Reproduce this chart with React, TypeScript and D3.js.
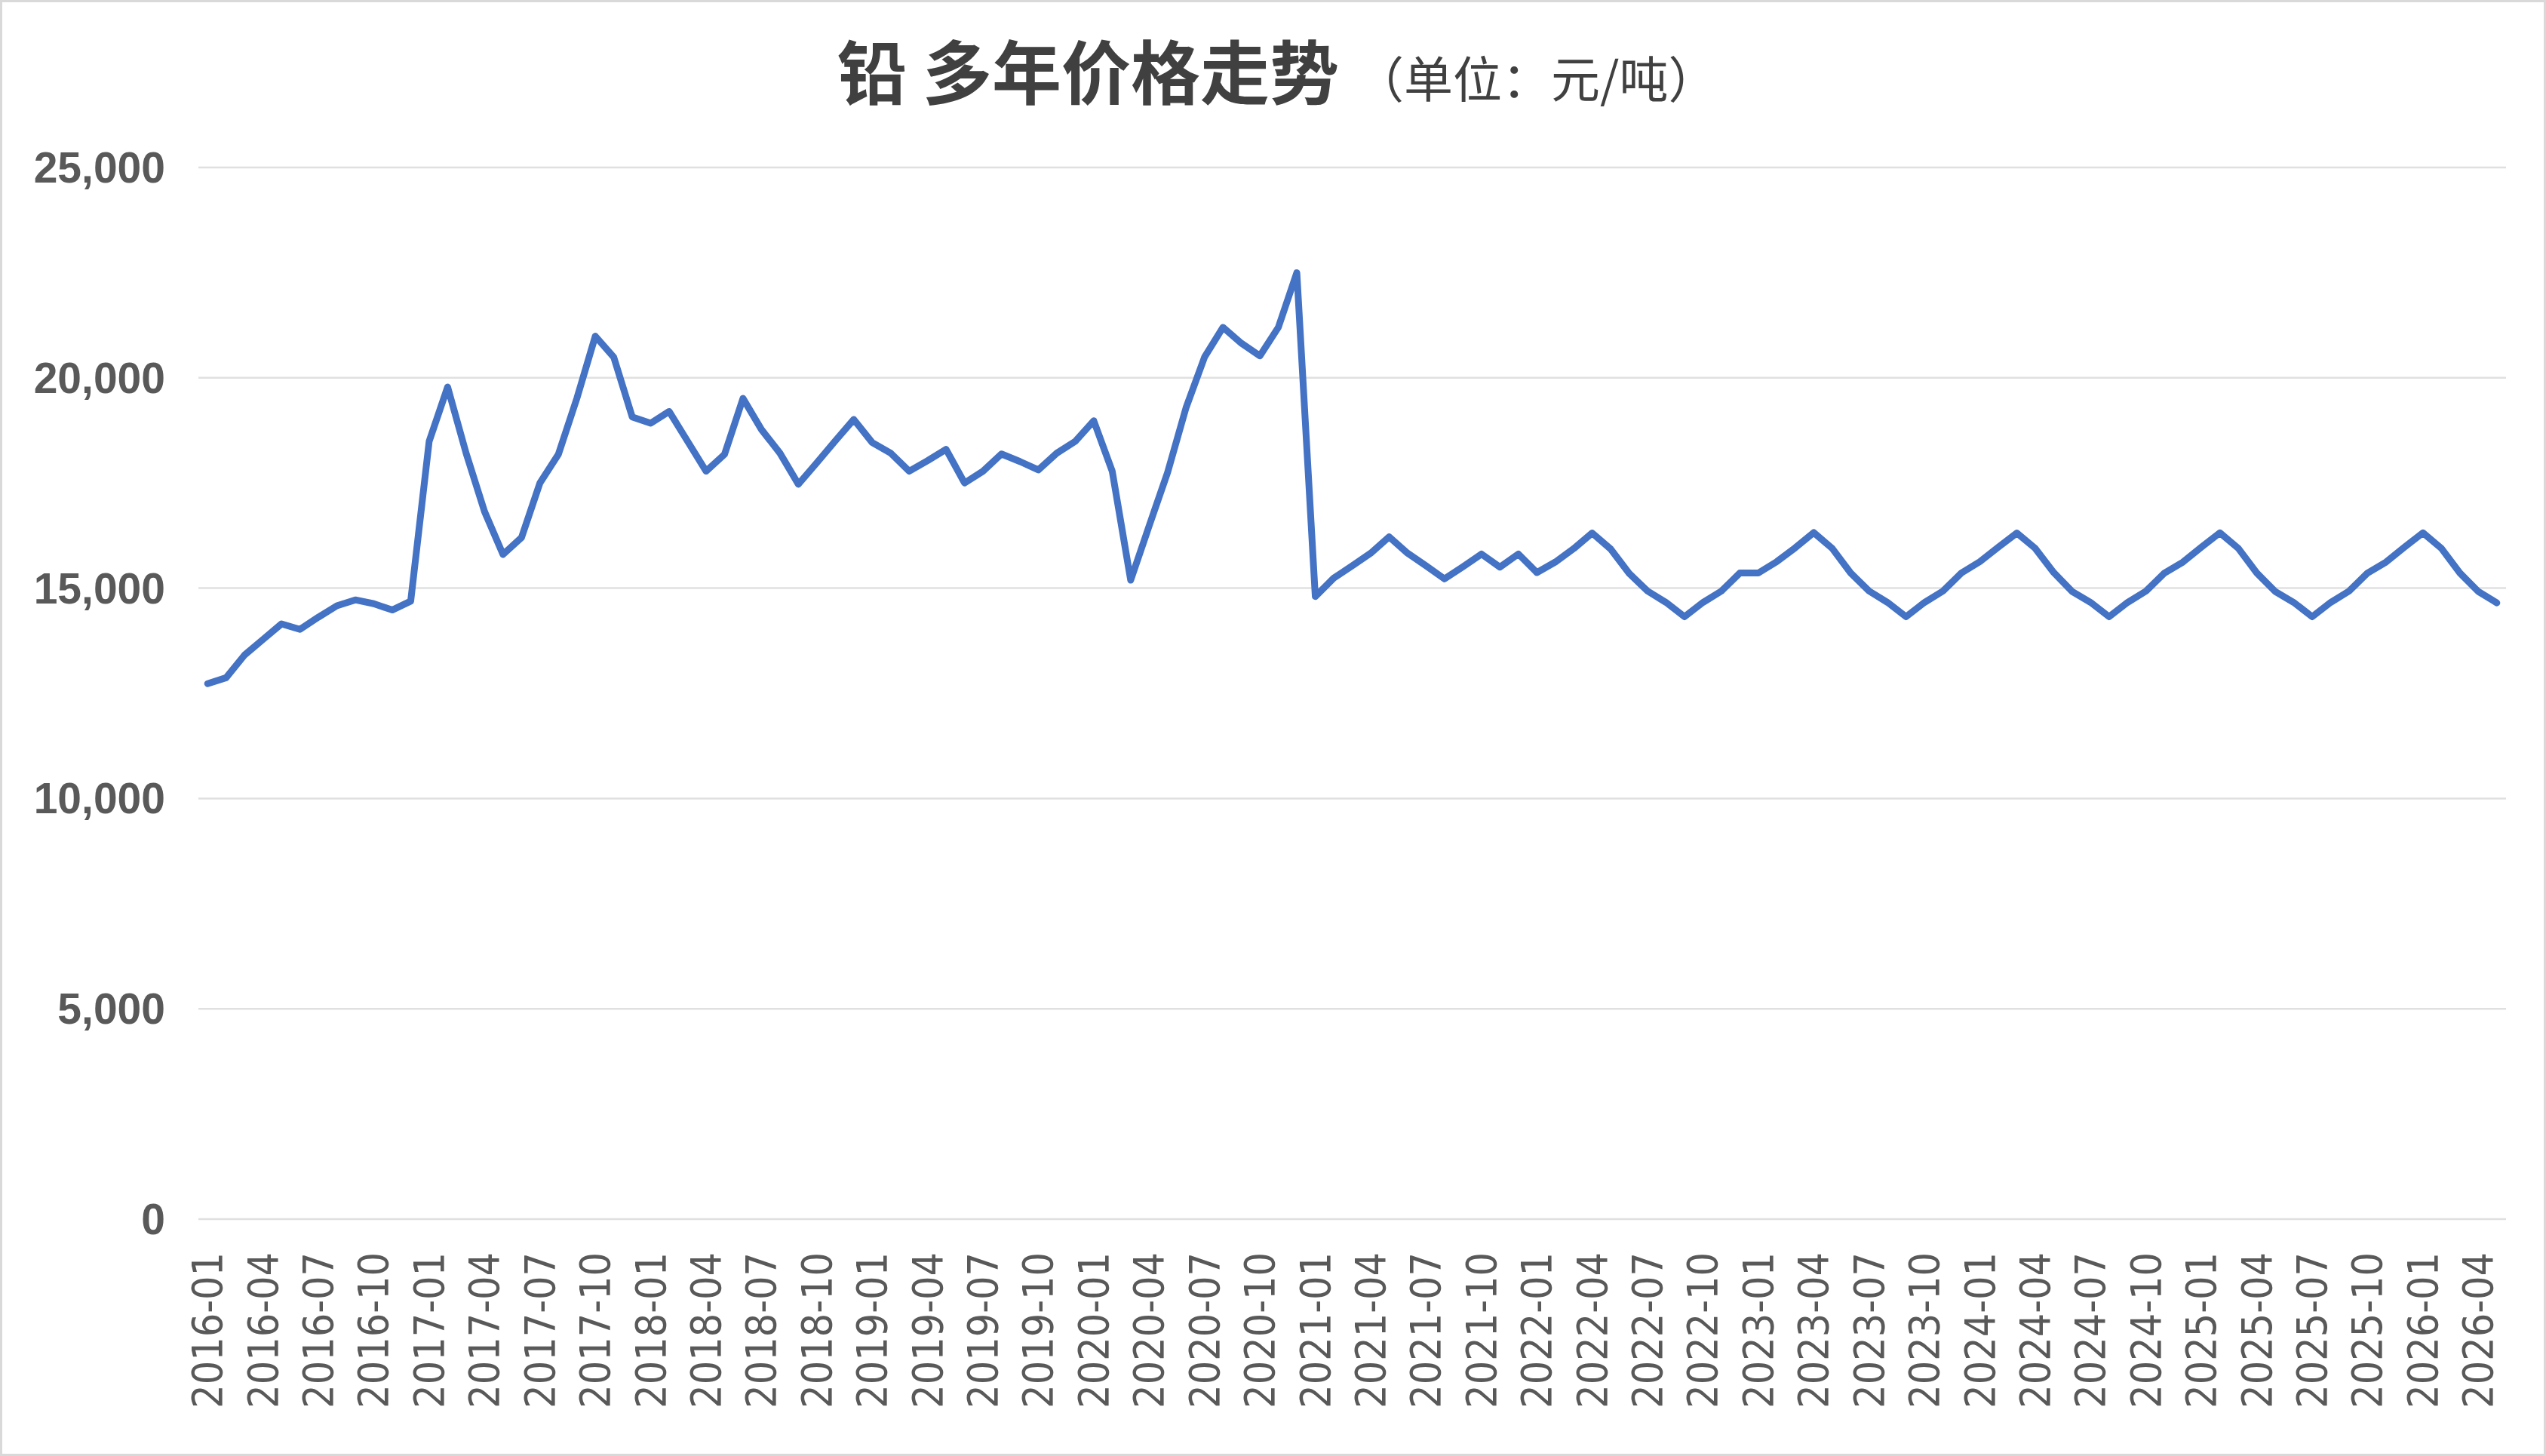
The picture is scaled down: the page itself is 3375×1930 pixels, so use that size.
import React from "react";
import * as d3 from "d3";

const W = 3375;
const H = 1930;

const startMonth = new Date(2016, 0, 1);
const months: string[] = d3
  .timeMonth.range(startMonth, new Date(2026, 5, 1))
  .map((d) => d3.timeFormat("%Y-%m")(d));

const prices: number[] = [
  12730, 12870, 13410, 13780, 14150, 14020, 14310, 14580, 14720, 14630, 14480, 14690,
  18490, 19780, 18210, 16820, 15800, 16200, 17500, 18180, 19510, 20990, 20490, 19070,
  18920, 19200, 18490, 17780, 18180, 19510, 18770, 18210, 17470, 17980, 18500, 19010,
  18460, 18210, 17780, 18030, 18300, 17500, 17780, 18190, 18010, 17810, 18210, 18490,
  18980, 17780, 15190, 16480, 17750, 19290, 20490, 21200, 20820, 20520, 21200, 22500,
  14800, 15240, 15530, 15830, 16220, 15830, 15530, 15220, 15510, 15810, 15500, 15810,
  15370, 15620, 15940, 16310, 15930, 15350, 14930, 14660, 14320, 14660, 14930, 15360,
  15360, 15630, 15960, 16320, 15945, 15360, 14930, 14660, 14320, 14660, 14930, 15360,
  15630, 15975, 16310, 15945, 15370, 14920, 14660, 14320, 14660, 14930, 15360, 15620,
  15975, 16315, 15945, 15360, 14920, 14660, 14320, 14660, 14930, 15360, 15620, 15975,
  16315, 15945, 15360, 14920, 14650,
];

const yTicks: number[] = [0, 5000, 10000, 15000, 20000, 25000];

const titleMain = "铅 多年价格走势";
const titleUnit = "（单位：元/吨）";

export default function App() {
  const x = d3.scaleBand<string>().domain(months).range([263, 3322]).padding(0);
  const bw = x.bandwidth();
  const y = d3.scaleLinear().domain([0, 25000]).range([1616, 222]);
  const cx = (m: string) => (x(m) as number) + bw / 2;

  const data = months.map((m, i) => ({ m, v: prices[i] })).filter((d) => d.v != null);
  const line = d3
    .line<{ m: string; v: number }>()
    .x((d) => cx(d.m))
    .y((d) => y(d.v));

  const fmt = d3.format(",");
  const labelMonths = months.filter((_, i) => i % 3 === 0);

  return (
    <div style={{ position: "absolute", left: 0, top: 0, width: W, height: H }}>
      <svg width={W} height={H} style={{ display: "block" }}>
        <rect x={0} y={0} width={W} height={H} fill="#ffffff" />
        <rect x={1.5} y={1.5} width={W - 3} height={H - 3} fill="none" stroke="#d9d9d9" strokeWidth={3} />
        <text
          x={1110}
          y={131}
          fontFamily="'Noto Sans CJK SC', sans-serif"
          fontWeight="bold"
          fontSize={92}
          fill="#404040"
        >
          {titleMain}
        </text>
        <text
          x={1796}
          y={129}
          fontFamily="'Noto Sans CJK SC', sans-serif"
          fontSize={65}
          fill="#404040"
        >
          {titleUnit}
        </text>
        {yTicks.map((t) => (
          <g key={t}>
            <line x1={263} x2={3322} y1={y(t)} y2={y(t)} stroke="#e0e0e0" strokeWidth={2.5} />
            <text
              x={219}
              y={y(t)}
              textAnchor="end"
              dominantBaseline="central"
              fontFamily="'Liberation Sans', Arial, sans-serif"
              fontWeight="bold"
              fontSize={57}
              fill="#595959"
            >
              {fmt(t)}
            </text>
          </g>
        ))}
        {labelMonths.map((m) => (
          <text
            key={m}
            transform={`translate(${cx(m)},1660) rotate(-90)`}
            textAnchor="end"
            dominantBaseline="central"
            fontFamily="'DejaVu Sans Condensed', 'DejaVu Sans', sans-serif"
            fontStretch="condensed"
            fontSize={55}
            fill="#595959"
          >
            {m}
          </text>
        ))}
        <path
          d={line(data) || ""}
          fill="none"
          stroke="#4472C4"
          strokeWidth={9}
          strokeLinejoin="round"
          strokeLinecap="round"
        />
      </svg>
    </div>
  );
}
